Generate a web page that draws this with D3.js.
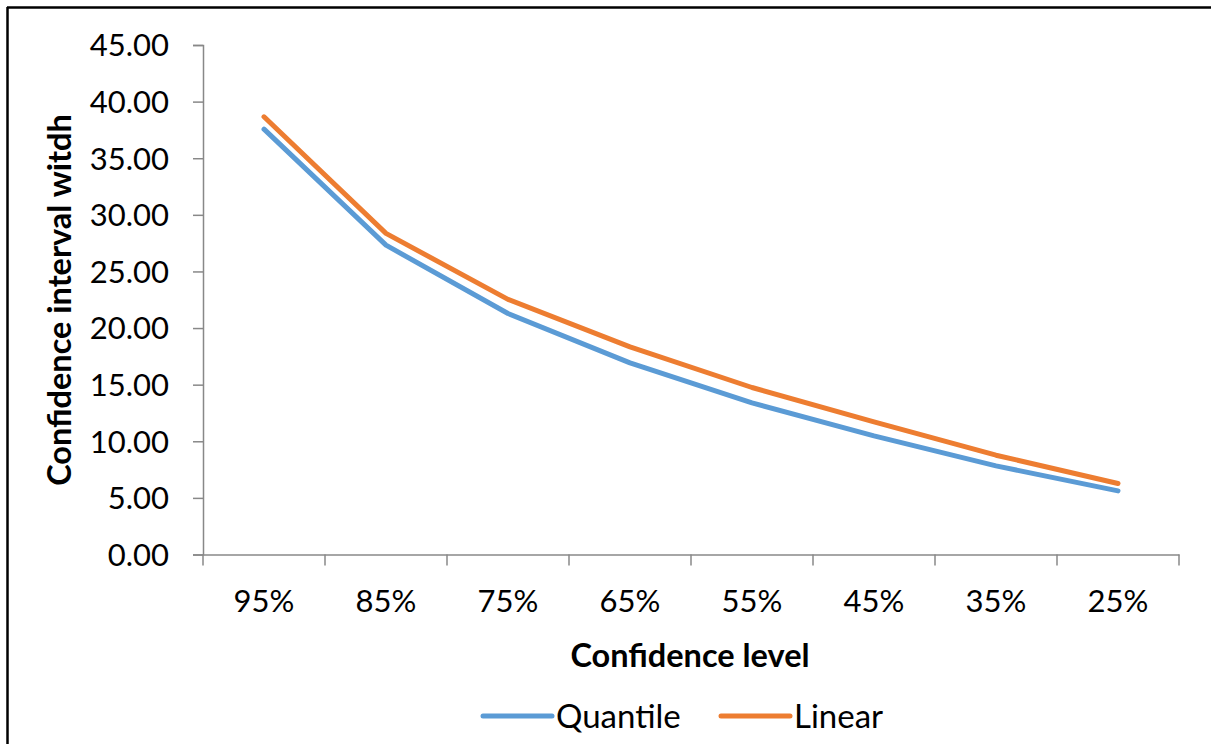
<!DOCTYPE html>
<html><head><meta charset="utf-8">
<script src="https://cdn.jsdelivr.net/npm/d3@7"></script>
<style>body{margin:0;background:#fff}svg{display:block}</style>
</head><body>
<svg id="c" width="1211" height="744"></svg>
<script>
const categories = ["95%","85%","75%","65%","55%","45%","35%","25%"];
const quantile = [37.57,27.32,21.29,16.93,13.39,10.48,7.83,5.62];
const linear   = [38.66,28.36,22.53,18.34,14.75,11.71,8.77,6.27];
const yTicks = [0,5,10,15,20,25,30,35,40,45];
const seriesNames = ["Quantile","Linear"];
const colors = ["#5B9BD5","#ED7D31"];

(function(){
const font = "Lato, 'Open Sans', sans-serif";
const svg = d3.select("#c");
const pLeft = 203, pRight = 1179, pTop = 45, pBottom = 554.5;

svg.append("line").attr("x1",7).attr("x2",1211).attr("y1",7.5).attr("y2",7.5).attr("stroke","#000").attr("stroke-width",2.5);
svg.append("line").attr("x1",7.5).attr("x2",7.5).attr("y1",7).attr("y2",744).attr("stroke","#000").attr("stroke-width",2.5);

const x = d3.scaleBand().domain(categories).range([pLeft,pRight]);
const y = d3.scaleLinear().domain([0,45]).range([pBottom,pTop]);

const yAxis = svg.append("g").attr("transform",`translate(${pLeft},0)`)
  .call(d3.axisLeft(y).tickValues(yTicks).tickFormat(d3.format(".2f")).tickSize(10).tickPadding(24));
yAxis.select(".domain").attr("stroke","#888").attr("stroke-width",1.5);
yAxis.selectAll(".tick line").attr("stroke","#888").attr("stroke-width",1.5);
yAxis.selectAll("text").attr("font-family",font).attr("font-size",31).attr("fill","#000").attr("dy","0.35em");

const xAxis = svg.append("g").attr("transform",`translate(0,${pBottom})`)
  .call(d3.axisBottom(x).tickSize(0).tickPadding(35));
xAxis.select(".domain").attr("stroke","#888").attr("stroke-width",1.5);
xAxis.selectAll("text").attr("font-family",font).attr("font-size",31).attr("fill","#000");
const bounds = categories.map(c=>x(c)).concat([x.range()[1]]);
xAxis.selectAll(".bt").data(bounds).enter().append("line")
  .attr("x1",d=>d).attr("x2",d=>d).attr("y1",0).attr("y2",11)
  .attr("stroke","#888").attr("stroke-width",1.5);

const line = d3.line().x((d,i)=>x(categories[i])+x.bandwidth()/2).y(d=>y(d));
[quantile,linear].forEach((s,k)=>{
  svg.append("path").datum(s).attr("d",line).attr("fill","none")
    .attr("stroke",colors[k]).attr("stroke-width",5).attr("stroke-linejoin","round").attr("stroke-linecap","round");
});

svg.append("text").attr("x",690).attr("y",667).attr("text-anchor","middle")
  .attr("font-family",font).attr("font-weight","bold").attr("font-size",32.5).text("Confidence level");
svg.append("text").attr("transform","translate(71,300) rotate(-90)").attr("text-anchor","middle")
  .attr("font-family",font).attr("font-weight","bold").attr("font-size",32.5).text("Confidence interval witdh");

const legX = [483, 721];
seriesNames.forEach((n,k)=>{
  svg.append("line").attr("x1",legX[k]).attr("x2",legX[k]+69).attr("y1",716).attr("y2",716)
    .attr("stroke",colors[k]).attr("stroke-width",5).attr("stroke-linecap","round");
  svg.append("text").attr("x",legX[k]+73).attr("y",728).attr("font-family",font).attr("font-size",33).text(n);
});
})();
</script>
</body></html>
